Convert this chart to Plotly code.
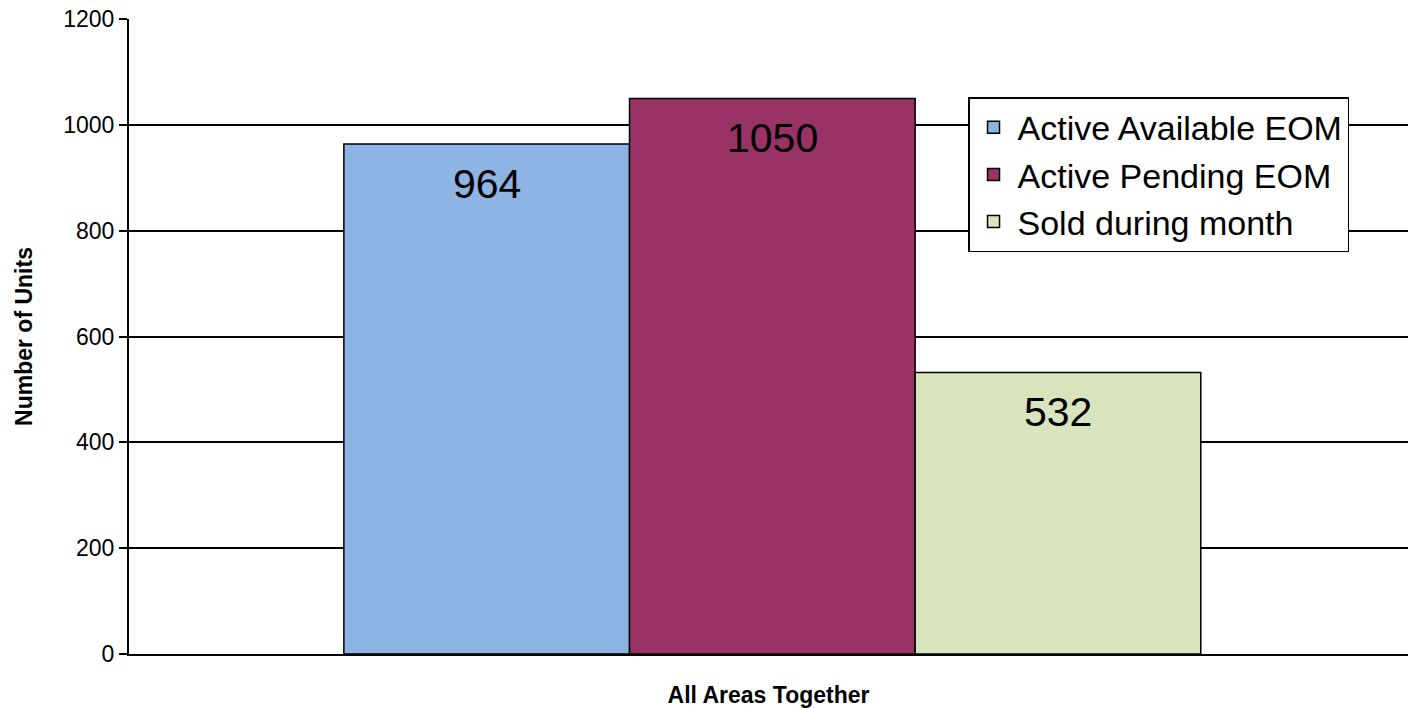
import plotly.graph_objects as go

# Monthly unit counts across all areas
categories = ["All Areas Together"]
series_names = ["Active Available EOM", "Active Pending EOM", "Sold during month"]
series_values = [[964], [1050], [532]]
series_colors = ["#8EB4E3", "#993366", "#D7E4BD"]
y_ticks = [0, 200, 400, 600, 800, 1000, 1200]

FONT = "Arial, Liberation Sans, sans-serif"
BAR_GAP = 0.33

fig = go.Figure()
for name, vals, color in zip(series_names, series_values, series_colors):
    fig.add_trace(go.Bar(
        x=categories, y=vals, name=name,
        marker=dict(color=color, line=dict(color="#000000", width=1.5)),
    ))

# value labels placed just inside the top of each bar
n = len(series_names)
bar_w = (1 - BAR_GAP) / n
for i, vals in enumerate(series_values):
    for j, v in enumerate(vals):
        fig.add_annotation(
            x=j + (i - (n - 1) / 2) * bar_w, y=v, xref="x", yref="y",
            text=str(v), showarrow=False, yanchor="middle", yshift=-40,
            font=dict(family=FONT, size=41, color="#000000"),
        )

fig.update_layout(
    width=1408, height=708,
    margin=dict(l=129, r=0, t=19, b=54),
    paper_bgcolor="#FFFFFF", plot_bgcolor="#FFFFFF",
    barmode="group", bargap=BAR_GAP, bargroupgap=0,
    font=dict(family=FONT, color="#000000"),
    showlegend=True,
    legend=dict(
        x=0.656, y=0.877, xanchor="left", yanchor="top",
        bgcolor="#FFFFFF", bordercolor="#000000", borderwidth=1.5,
        font=dict(family=FONT, size=34, color="#000000"),
        traceorder="normal", itemwidth=38,
    ),
    xaxis=dict(
        type="category", range=[-0.503, 0.497],
        showline=True, linecolor="#000000", linewidth=2,
        showticklabels=False, ticks="", showgrid=False,
        title=dict(text="<b>All Areas Together</b>", font=dict(family=FONT, size=23), standoff=33),
    ),
    yaxis=dict(
        range=[0, 1200], tickvals=y_ticks,
        showline=True, linecolor="#000000", linewidth=2,
        ticks="outside", ticklen=8, tickcolor="#000000", tickwidth=1.5,
        tickfont=dict(family=FONT, size=23, color="#000000"),
        showgrid=True, gridcolor="#000000", gridwidth=1.5, zeroline=False,
        title=dict(text="<b>Number of Units</b>", font=dict(family=FONT, size=23), standoff=24),
    ),
)

fig.write_html("out.html")
